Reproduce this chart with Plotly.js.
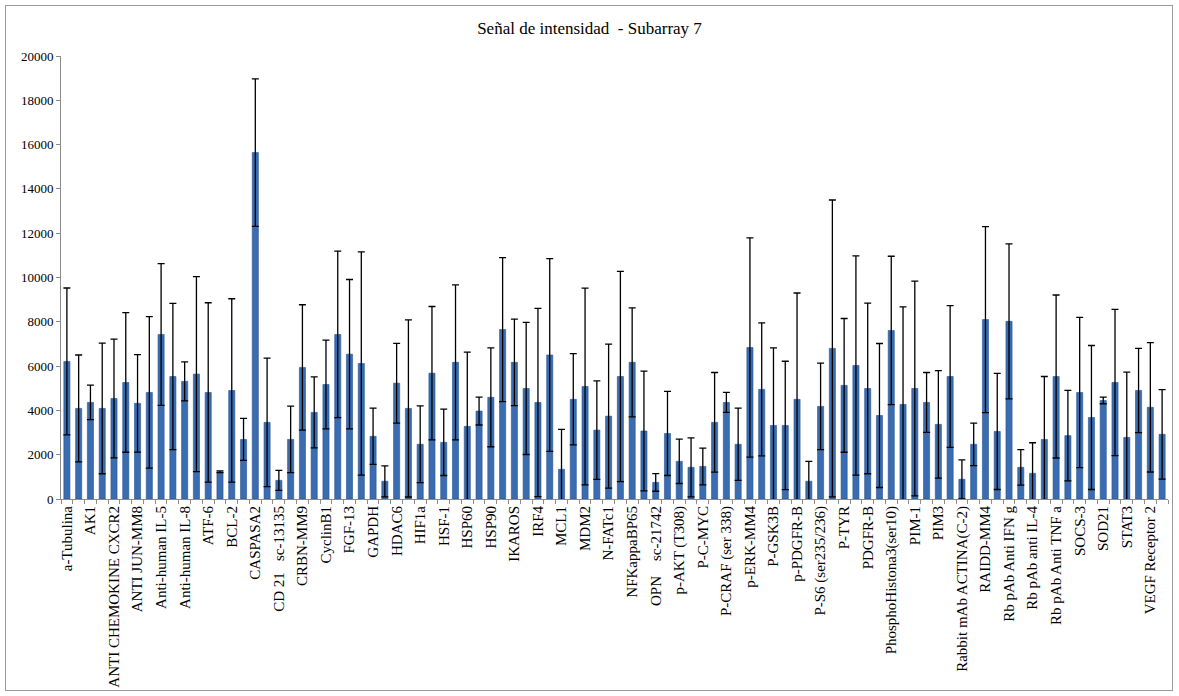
<!DOCTYPE html>
<html>
<head>
<meta charset="utf-8">
<script src="https://cdn.plot.ly/plotly-3.0.1.min.js"></script>
<style>
  html, body { margin: 0; padding: 0; background: #fff; }
  #wrap { position: relative; width: 1179px; height: 696px; }
  #chart { width: 1179px; height: 696px; }
  #frame { position: absolute; left: 5px; top: 5px; width: 1166px; height: 684px; border: 1px solid #9a9a9a; pointer-events: none; }
</style>
</head>
<body>
<div id="wrap">
  <div id="chart"></div>
  <div id="frame"></div>
</div>
<script>
// Labels shown on the category axis (every other bar carries a label)
const labels = [
  'a-Tubulina','AK1','ANTI CHEMOKINE CXCR2','ANTI JUN-MM8','Anti-human IL-5','Anti-human IL-8',
  'ATF-6','BCL-2','CASPASA2','CD 21\u00a0\u00a0\u00a0sc-13135','CRBN-MM9','CyclinB1','FGF-13','GAPDH',
  'HDAC6','HIF1a','HSF-1','HSP60','HSP90','IKAROS','IRF4','MCL1','MDM2','N-FATc1','NFKappaBP65',
  'OPN\u00a0\u00a0\u00a0\u00a0sc-21742','p-AKT (T308)','P-C-MYC','P-CRAF (ser 338)','p-ERK-MM4','P-GSK3B',
  'p-PDGFR-B','P-S6 (ser235/236)','P-TYR','PDGFR-B','PhosphoHistona3(ser10)','PIM-1','PIM3',
  'Rabbit mAb ACTINA(C-2)','RAIDD-MM4','Rb pAb Anti IFN g','Rb pAb anti IL-4','Rb pAb Anti TNF a',
  'SOCS-3','SOD21','STAT3','VEGF Receptor 2'
];

// Mean signal per spot (94 bars)
const values = [
  6210,4090,4360,4090,4540,5260,4320,4810,7430,5530,
  5310,5640,4810,1230,4900,2690,15640,3460,840,2690,
  5940,3910,5170,7430,6540,6120,2830,800,5230,4090,
  2470,5680,2560,6170,3280,3970,4590,7650,6170,4990,
  4360,6500,1340,4500,5080,3110,3740,5530,6170,3070,
  750,2960,1700,1430,1470,3460,4360,2470,6840,4950,
  3320,3320,4500,800,4180,6800,5130,6030,4990,3770,
  7610,4270,4990,4360,3370,5530,890,2470,8100,3050,
  8020,1430,1160,2690,5530,2860,4810,3680,4450,5260,
  2780,4900,4140,2920
];

// Error (± standard deviation)
const errors = [
  3315,2410,780,2950,2680,3150,2200,3420,3200,3300,
  880,4400,4050,40,4140,950,3330,2900,450,1500,
  2830,1600,2000,3760,3370,5040,1270,700,1800,4000,
  1730,3010,1500,3500,3350,630,2230,3250,1950,2980,
  4250,4350,1800,2060,4440,2220,3250,4750,2460,2700,
  400,1900,1000,1330,830,2250,450,1630,4950,3000,
  3500,2900,4800,900,1950,6700,3020,4950,3850,3250,
  3350,4400,4850,1350,2430,3200,880,960,4200,2620,
  3500,800,1380,2840,3680,2040,3390,3250,150,3300,
  2950,1900,2920,2020
];

const titleText = 'Señal de intensidad\u00a0\u00a0- Subarray 7';
const yTicks = [0,2000,4000,6000,8000,10000,12000,14000,16000,18000,20000];

const xIdx = values.map((_, i) => i);
const labelPos = labels.map((_, i) => 2 * i);

const serif = 'Liberation Serif';

const trace = {
  type: 'bar',
  x: xIdx,
  y: values,
  width: 0.52,
  marker: { color: '#3a6cb1', line: { color: '#2a548f', width: 0.6 } },
  error_y: { type: 'data', array: errors, visible: true, color: '#000000', thickness: 1.3, width: 3.5 },
  hoverinfo: 'y'
};

const layout = {
  width: 1179,
  height: 696,
  paper_bgcolor: '#ffffff',
  plot_bgcolor: '#ffffff',
  margin: { l: 61, r: 11, t: 56, b: 197, pad: 0 },
  showlegend: false,
  title: {
    text: titleText,
    font: { family: serif, size: 17, color: '#000' },
    x: 0.5, xanchor: 'center', xref: 'container',
    y: 1 - 28 / 696, yanchor: 'middle', yref: 'container'
  },
  xaxis: {
    range: [-0.5, values.length - 0.5],
    tickmode: 'array',
    tickvals: labelPos,
    ticktext: labels,
    tickangle: -90,
    ticks: '',
    tickfont: { family: serif, size: 15, color: '#000' },
    showline: true, linecolor: '#8c8c8c', linewidth: 1,
    showgrid: false, zeroline: false,
    automargin: false,
    minor: { tickmode: 'linear', tick0: -0.5, dtick: 1, ticks: 'outside', ticklen: 4, tickcolor: '#8c8c8c', tickwidth: 1, showgrid: false }
  },
  yaxis: {
    range: [0, 20000],
    tickmode: 'array',
    tickvals: yTicks,
    ticktext: yTicks.map(String),
    ticks: 'outside', ticklen: 4, tickcolor: '#8c8c8c', tickwidth: 1,
    tickfont: { family: serif, size: 13, color: '#000' },
    showline: true, linecolor: '#8c8c8c', linewidth: 1,
    showgrid: false, zeroline: false,
    automargin: false
  }
};

Plotly.newPlot('chart', [trace], layout, { displayModeBar: false, staticPlot: true });
</script>
</body>
</html>
